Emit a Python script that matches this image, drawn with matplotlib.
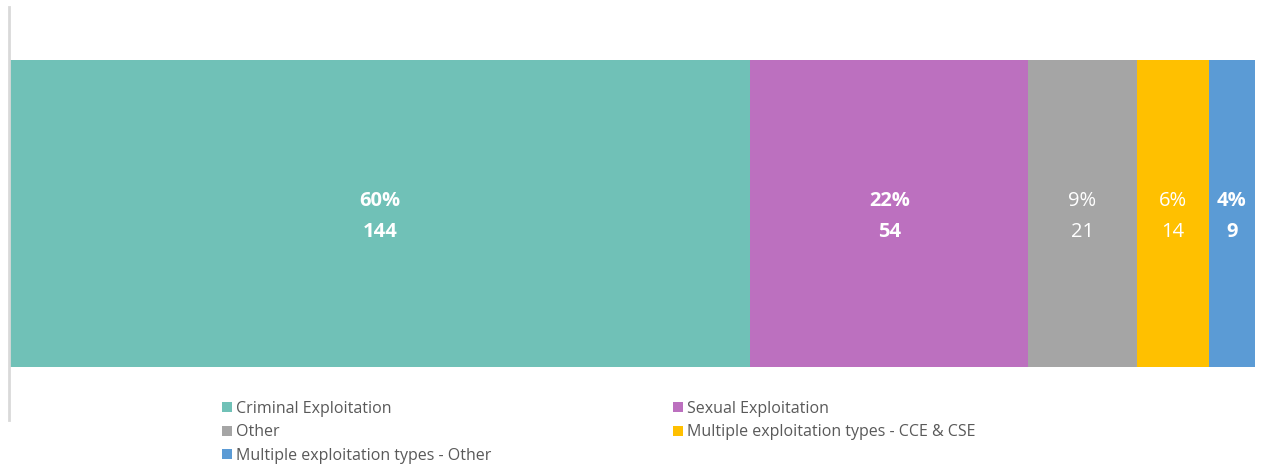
import numpy as np
import matplotlib.pyplot as plt

plt.rcParams['font.family'] = ['Open Sans', 'DejaVu Sans']

categories = ['Criminal Exploitation', 'Sexual Exploitation', 'Other',
              'Multiple exploitation types - CCE & CSE',
              'Multiple exploitation types - Other']
counts = [144, 54, 21, 14, 9]
percents = ['60%', '22%', '9%', '6%', '4%']
colors = ['#70C1B7', '#BC70BF', '#A5A5A5', '#FFC000', '#5B9BD5']
bold = [True, True, False, False, True]

fig = plt.figure(figsize=(12.62, 4.66), dpi=100)
ax = fig.add_axes([9/1262, 1-420/466, 1246/1262, 413/466])

left = 0
bars = []
for cat, n, pct, col, b in zip(categories, counts, percents, colors, bold):
    bar = ax.barh(0, n, left=left, height=0.741, color=col, label=cat)
    bars.append(bar)
    xc = left + n/2
    w = 'bold' if b else 'normal'
    ax.text(xc, 0.03, pct, ha='center', va='center', color='white',
            fontsize=14.5, fontweight=w)
    ax.text(xc, -0.045, str(n), ha='center', va='center', color='white',
            fontsize=14.5, fontweight=w)
    left += n

ax.set_xlim(0, sum(counts))
ax.set_ylim(-0.5, 0.5)
for s in ['top', 'right', 'bottom']:
    ax.spines[s].set_visible(False)
ax.spines['left'].set_color('#d9d9d9')
ax.spines['left'].set_linewidth(2)
ax.set_xticks([])
ax.set_yticks([])

# legend reads row by row, so reorder for column-major filling
order = [0, 2, 4, 1, 3]
handles = [bars[i] for i in order]
labels = [categories[i] for i in order]
fig.legend(handles, labels, loc='upper left', bbox_to_anchor=(214/1262, 1-393/466),
           ncol=2, frameon=False, fontsize=11.5, labelcolor='#595959',
           handlelength=0.6, handleheight=0.6, handletextpad=0.3,
           columnspacing=11.35, labelspacing=0.47, borderpad=0)

fig.savefig('out.png', dpi=100)
